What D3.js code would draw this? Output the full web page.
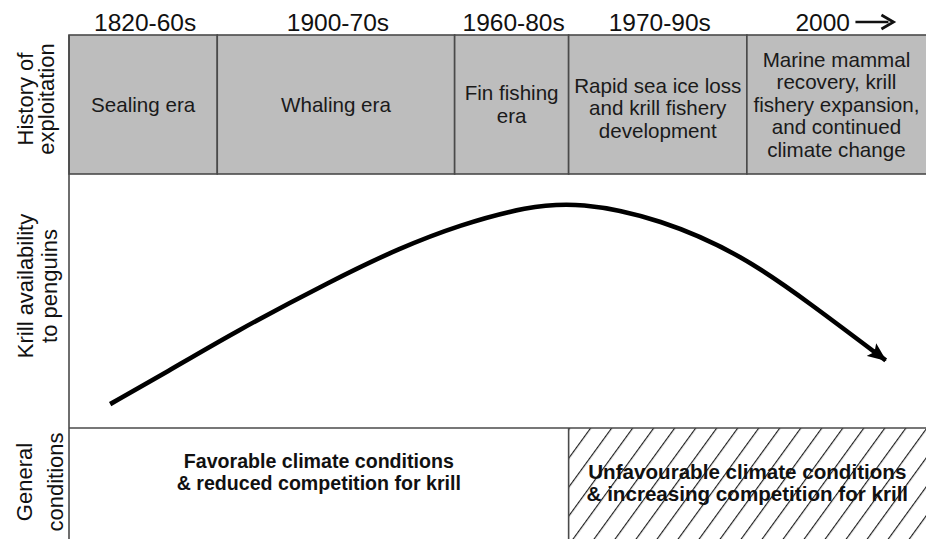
<!DOCTYPE html>
<html>
<head>
<meta charset="utf-8">
<script src="https://cdn.jsdelivr.net/npm/d3@7"></script>
<style>
  body { margin: 0; background: #fff; }
  text { font-family: "Liberation Sans", Arial, sans-serif; fill: #111; }
</style>
</head>
<body>
<div id="chart"></div>
<script>
// eras along a 0-100 timeline
const periods = ['1820-60s', '1900-70s', '1960-80s', '1970-90s', '2000'];
const eraStart = [0, 17.3, 45.0, 58.3, 79.1];
const eraEnd = [17.3, 45.0, 58.3, 79.1, 100];
const eraLabels = [
  ['Sealing era'],
  ['Whaling era'],
  ['Fin fishing', 'era'],
  ['Rapid sea ice loss', 'and krill fishery', 'development'],
  ['Marine mammal', 'recovery, krill', 'fishery expansion,', 'and continued', 'climate change']
];

// krill availability curve
const curveTime = [4.8, 11.4, 19.1, 30.8, 38.6, 45.6, 53.4, 59.6, 69.0, 78.6, 86.5, 95.3];
const krill = [9.4, 22.0, 37.4, 58.3, 70.9, 80.0, 87.2, 89.0, 82.4, 68.0, 49.0, 26.6];

// general conditions
const condStart = [0, 58.3];
const condEnd = [58.3, 100];
const condLabels = [
  ['Favorable climate conditions', '& reduced competition for krill'],
  ['Unfavourable climate conditions', '& increasing competition for krill']
];

const rowLabels = [
  ['History of', 'exploitation'],
  ['Krill availability', 'to penguins'],
  ['General', 'conditions']
];

const W = 926, H = 539;
const mLeft = 69, boxTop = 35, midTop = 174, botTop = 428;

const x = d3.scaleLinear().domain([0, 100]).range([mLeft, W]);
const y = d3.scaleLinear().domain([0, 100]).range([botTop, midTop]);

const svg = d3.select('#chart').append('svg')
  .attr('width', W).attr('height', H);

const defs = svg.append('defs');
defs.append('pattern')
  .attr('id', 'hatch')
  .attr('patternUnits', 'userSpaceOnUse')
  .attr('width', 17).attr('height', 17)
  .attr('patternTransform', 'translate(569,428) rotate(36)')
  .append('line')
  .attr('x1', 0.6).attr('y1', -1).attr('x2', 0.6).attr('y2', 18)
  .attr('stroke', '#111').attr('stroke-width', 1.1);

defs.append('marker')
  .attr('id', 'arrow')
  .attr('markerUnits', 'userSpaceOnUse')
  .attr('viewBox', '0 0 19 16')
  .attr('refX', 18).attr('refY', 8)
  .attr('markerWidth', 19).attr('markerHeight', 16)
  .attr('orient', 'auto')
  .append('path')
  .attr('d', 'M0,0 L19,8 L0,16 L4,8 Z')
  .attr('fill', '#000');

// period labels on top
svg.selectAll('.period')
  .data(periods)
  .enter()
  .append('text')
  .attr('class', 'period')
  .attr('x', function(d, i){
    const c = (x(eraStart[i]) + x(eraEnd[i])) / 2;
    return i === 4 ? c - 41 : c + 2;
  })
  .attr('y', 31)
  .attr('text-anchor', function(d, i){ return i === 4 ? 'start' : 'middle'; })
  .style('font-size', '24.5px')
  .text(function(d){ return d; });

// arrow after "2000"
const ax = (x(eraStart[4]) + x(eraEnd[4])) / 2;
svg.append('line')
  .attr('x1', ax + 19).attr('x2', ax + 52).attr('y1', 22).attr('y2', 22)
  .attr('stroke', '#111').attr('stroke-width', 2.6);
svg.append('path')
  .attr('d', 'M' + (ax + 45) + ',15 L' + (ax + 57) + ',22 L' + (ax + 45) + ',29')
  .attr('fill', 'none').attr('stroke', '#111').attr('stroke-width', 2.8);

// grey era boxes
svg.selectAll('.era')
  .data(eraLabels)
  .enter()
  .append('rect')
  .attr('class', 'era')
  .attr('x', function(d, i){ return x(eraStart[i]); })
  .attr('y', boxTop)
  .attr('width', function(d, i){ return x(eraEnd[i]) - x(eraStart[i]) + (i === 4 ? 2 : 0); })
  .attr('height', midTop - boxTop)
  .attr('fill', '#bdbdbd')
  .attr('stroke', '#4a4a4a')
  .attr('stroke-width', 1.6);

const lh = 22.5;
const boxShift = [0, 0, 0, 3.5, 0];
eraLabels.forEach(function(lines, i){
  const cx = (x(eraStart[i]) + x(eraEnd[i])) / 2;
  const cy = (boxTop + midTop) / 2 + boxShift[i];
  const t = svg.append('text')
    .attr('text-anchor', 'middle')
    .style('font-size', '20.6px')
    .style('fill', '#1a1a1a');
  lines.forEach(function(s, j){
    t.append('tspan')
      .attr('x', cx)
      .attr('y', cy - (lines.length - 1) * lh / 2 + j * lh + 7)
      .text(s);
  });
});

// hatched region
svg.append('rect')
  .attr('x', x(condStart[1]))
  .attr('y', botTop)
  .attr('width', x(condEnd[1]) - x(condStart[1]))
  .attr('height', H - botTop)
  .attr('fill', 'url(#hatch)');

// frame lines
svg.append('line')
  .attr('x1', mLeft).attr('x2', mLeft).attr('y1', boxTop).attr('y2', H)
  .attr('stroke', '#4a4a4a').attr('stroke-width', 1.6);
svg.append('line')
  .attr('x1', mLeft).attr('x2', W).attr('y1', botTop).attr('y2', botTop)
  .attr('stroke', '#4a4a4a').attr('stroke-width', 1.6);
svg.append('line')
  .attr('x1', x(condStart[1])).attr('x2', x(condStart[1])).attr('y1', botTop).attr('y2', H)
  .attr('stroke', '#4a4a4a').attr('stroke-width', 1.6);

// conditions text
const condY = [468, 479];
const condSize = ['19.6px', '20.6px'];
condLabels.forEach(function(lines, i){
  const cx = (x(condStart[i]) + x(condEnd[i])) / 2;
  const t = svg.append('text')
    .attr('text-anchor', 'middle')
    .style('font-size', condSize[i])
    .style('font-weight', 'bold');
  lines.forEach(function(s, j){
    t.append('tspan')
      .attr('x', cx)
      .attr('y', condY[i] + j * 22)
      .text(s);
  });
});

// krill curve
const pts = curveTime.map(function(t, i){ return [t, krill[i]]; });
const line = d3.line()
  .x(function(d){ return x(d[0]); })
  .y(function(d){ return y(d[1]); })
  .curve(d3.curveBasis);

svg.append('path')
  .datum(pts)
  .attr('fill', 'none')
  .attr('stroke', '#000')
  .attr('stroke-width', 4.6)
  .attr('d', line)
  .attr('marker-end', 'url(#arrow)');

// row labels (rotated)
const rowCy = [99, 286, 482];
const rowBase = [33, 33, 32];
const rowGap = [21, 24, 31];
rowLabels.forEach(function(lines, i){
  lines.forEach(function(s, j){
    const bx = rowBase[i] + j * rowGap[i];
    svg.append('text')
      .attr('transform', 'translate(' + bx + ',' + rowCy[i] + ') rotate(-90)')
      .attr('text-anchor', 'middle')
      .style('font-size', '22px')
      .text(s);
  });
});
</script>
</body>
</html>
